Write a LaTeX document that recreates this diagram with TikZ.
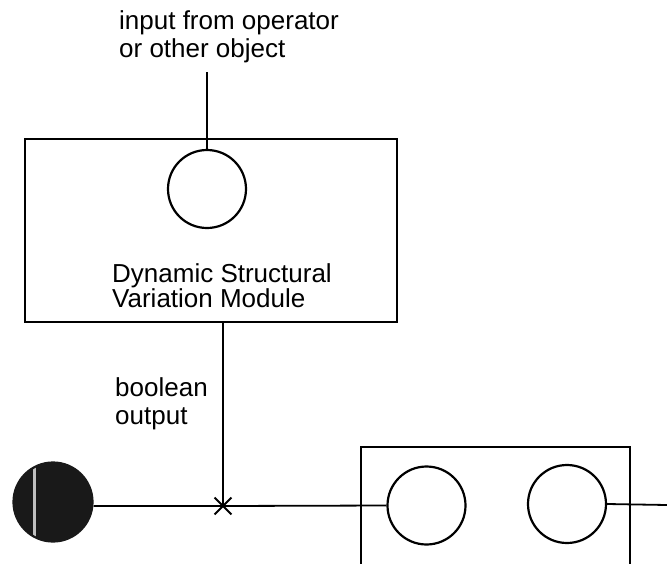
\documentclass[tikz,border=0pt]{standalone}
\usepackage{fontspec}
\setmainfont{Liberation Sans}
\usetikzlibrary{shapes.misc, positioning}

\begin{document}
\begin{tikzpicture}[
            x=1pt, y=-1pt,
            module/.style={
                    rectangle,
                    draw=black,
                    line width=1.8pt,
                    fill=white,
                    inner sep=0pt
                },
            port/.style={
                    circle,
                    draw=black,
                    line width=2.2pt,
                    fill=white,
                    minimum size=78pt,
                    inner sep=0pt
                },
            label/.style={
                    anchor=north west,
                    align=left,
                    inner sep=0pt,
                    font=\fontsize{26}{28}\selectfont
                },
            line/.style={
                    draw,
                    line width=1.8pt
                }
        ]

        \useasboundingbox (0,0) rectangle (667,563);
        \clip (0,0) rectangle (667,563);

        % Nodes
        \node [label] (inp) at (119,10) {input from operator\\or other object};
        \node [module, minimum width=372pt, minimum height=183pt] (dsvm) at (211,230.5) {};
        \node [port] (sel) at (207,189) {};
        \node [label, font=\fontsize{26}{25}\selectfont] (dsvmtxt) at (112,263) {Dynamic Structural\\Variation Module};
        \node [label] (bool) at (115,377) {boolean\\output};

        \node [module, minimum width=269pt, minimum height=160pt, anchor=north west] (obj) at (360,446) {};
        \node [port] (lin) at (426.5,505.5) {};
        \node [port] (rout) at (567,504) {};

        \node [port, fill=black!90, draw=black!90, minimum size=79pt,
               path picture={\draw [black!25, line width=3pt]
                    ([xshift=-19pt]path picture bounding box.north) --
                    ([xshift=-19pt]path picture bounding box.south);}] (src) at (53,502) {};
        \node [cross out, draw=black, line width=1.8pt, minimum size=15pt, inner sep=0pt] (xmark) at (223,506) {};

        \coordinate (intop) at (207,72);
        \coordinate (outend) at (667,505);

        % Connections
        \path [line] (intop) -- (sel.north);
        \path [line] (dsvm.south -| xmark) -- (xmark.center);
        \path [line] (src.east |- xmark) -- (xmark.center) -- (lin.west);
        \path [line] (rout.east) -- (outend);
    \end{tikzpicture}
\end{document}
